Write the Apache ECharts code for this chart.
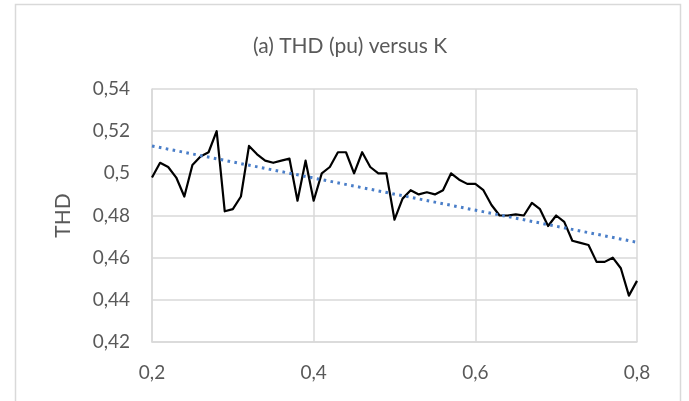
<!DOCTYPE html>
<html>
<head>
<meta charset="utf-8">
<script src="https://cdn.jsdelivr.net/npm/echarts@6/dist/echarts.min.js"></script>
<style>
  html, body { margin: 0; padding: 0; background: #ffffff; }
  #chart { width: 689px; height: 401px; }
</style>
</head>
<body>
<div id="chart"></div>
<script>
// K values (0.20 … 0.80, step 0.01)
const kValues = [
  0.20, 0.21, 0.22, 0.23, 0.24, 0.25, 0.26, 0.27, 0.28, 0.29,
  0.30, 0.31, 0.32, 0.33, 0.34, 0.35, 0.36, 0.37, 0.38, 0.39,
  0.40, 0.41, 0.42, 0.43, 0.44, 0.45, 0.46, 0.47, 0.48, 0.49,
  0.50, 0.51, 0.52, 0.53, 0.54, 0.55, 0.56, 0.57, 0.58, 0.59,
  0.60, 0.61, 0.62, 0.63, 0.64, 0.65, 0.66, 0.67, 0.68, 0.69,
  0.70, 0.71, 0.72, 0.73, 0.74, 0.75, 0.76, 0.77, 0.78, 0.79,
  0.80
];

// THD (pu) for each K
const thdValues = [
  0.498, 0.505, 0.503, 0.498, 0.489, 0.504, 0.508, 0.510, 0.520, 0.482,
  0.483, 0.489, 0.513, 0.509, 0.506, 0.505, 0.506, 0.507, 0.487, 0.506,
  0.487, 0.500, 0.503, 0.510, 0.510, 0.500, 0.510, 0.503, 0.500, 0.500,
  0.478, 0.488, 0.492, 0.490, 0.491, 0.490, 0.492, 0.500, 0.497, 0.495,
  0.495, 0.492, 0.485, 0.480, 0.480, 0.4805, 0.480, 0.486, 0.483, 0.475,
  0.480, 0.477, 0.468, 0.467, 0.466, 0.458, 0.458, 0.460, 0.455, 0.442,
  0.449
];

// Linear trend line end points
const trendK = [0.20, 0.80];
const trendThd = [0.513, 0.4673];

// Axis ticks
const xTicks = [0.2, 0.4, 0.6, 0.8];
const yTicks = [0.42, 0.44, 0.46, 0.48, 0.50, 0.52, 0.54];

const titleText = '(a) THD (pu) versus K';
const yAxisTitle = 'THD';

const fontFamily = 'Lato, "Open Sans", sans-serif';
const textColor = '#595959';
const gridColor = '#d9d9d9';

const fmt = v => String(+(+v).toFixed(2)).replace('.', ',');

const chart = echarts.init(document.getElementById('chart'), null, { renderer: 'canvas' });

chart.setOption({
  animation: false,
  backgroundColor: '#ffffff',
  graphic: [{
    type: 'rect',
    shape: { x: 15.5, y: 4.5, width: 665, height: 420 },
    style: { fill: 'none', stroke: gridColor, lineWidth: 1.5 },
    silent: true
  }],
  title: {
    text: titleText,
    left: 345,
    textAlign: 'center',
    top: 31,
    textStyle: { fontFamily, fontSize: 21, fontWeight: 'normal', color: textColor }
  },
  grid: { left: 152, right: 52, top: 89, bottom: 59, containLabel: false },
  xAxis: {
    type: 'value',
    min: xTicks[0],
    max: xTicks[xTicks.length - 1],
    interval: 0.2,
    axisLine: { show: true, lineStyle: { color: gridColor, width: 1.5 } },
    axisTick: { show: false },
    splitLine: { show: true, lineStyle: { color: gridColor, width: 1.5 } },
    axisLabel: { formatter: fmt, fontFamily, fontSize: 19, color: textColor, margin: 21 }
  },
  yAxis: {
    type: 'value',
    min: yTicks[0],
    max: yTicks[yTicks.length - 1],
    interval: 0.02,
    name: yAxisTitle,
    nameLocation: 'middle',
    nameGap: 78,
    nameRotate: 90,
    nameTextStyle: { fontFamily, fontSize: 21, color: textColor },
    axisLine: { show: true, lineStyle: { color: gridColor, width: 1.5 } },
    axisTick: { show: false },
    splitLine: { show: true, lineStyle: { color: gridColor, width: 1.5 } },
    axisLabel: { formatter: fmt, fontFamily, fontSize: 19, color: textColor, margin: 22 }
  },
  series: [
    {
      name: 'THD',
      type: 'line',
      data: kValues.map((k, i) => [k, thdValues[i]]),
      showSymbol: false,
      lineStyle: { color: '#000000', width: 2.2, join: 'round' },
      z: 3
    },
    {
      name: 'Linear (THD)',
      type: 'line',
      data: trendK.map((k, i) => [k, trendThd[i]]),
      showSymbol: false,
      lineStyle: { color: '#4a7ec8', width: 3, type: [2.6, 4.4] },
      z: 4
    }
  ]
});
</script>
</body>
</html>
